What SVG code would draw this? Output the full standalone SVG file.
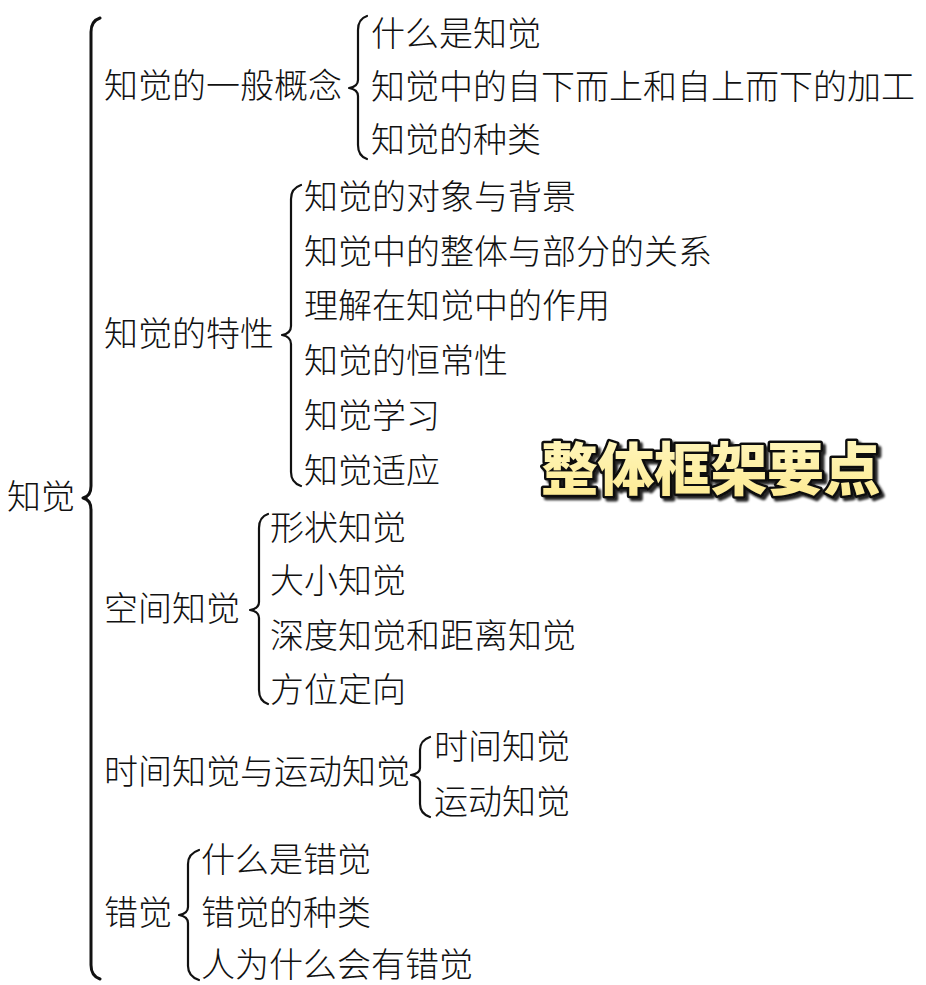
<svg xmlns="http://www.w3.org/2000/svg" width="926" height="985" viewBox="0 0 926 985">
<style>
.t{font-family:"Noto Sans CJK SC","Noto Sans CJK JP",sans-serif;font-size:34px;font-weight:300;fill:#111;dominant-baseline:central}
.b{fill:none;stroke:#111;stroke-width:2.2;stroke-linecap:round;stroke-linejoin:round}
.bm{stroke-width:3}
.title{font-family:"Noto Sans CJK SC",sans-serif;font-size:57px;font-weight:900;dominant-baseline:central;letter-spacing:-0.5px}
</style>
<defs>
<linearGradient id="yg" x1="0" y1="0" x2="0" y2="1">
<stop offset="0" stop-color="#FFF8C4"/>
<stop offset="1" stop-color="#FDE98E"/>
</linearGradient>
<filter id="sh" x="-5%" y="-20%" width="115%" height="150%">
<feDropShadow dx="3" dy="3" stdDeviation="0.8" flood-color="#000" flood-opacity="0.85"/>
</filter>
</defs>
<rect width="926" height="985" fill="#fff"/>
<g id="connectors">
<path class="b bm" d="M100,18 C94,20 91,24 91,32 L91,486 C91,493 88,497 83,498 C88,499 91,503 91,510 L91,965 C91,973 94,977 100,979"/>
<path class="b" d="M367,16 C361,18 358,22 358,30 L358,80 C358,85 355,87 349,88 C355,89 358,91 358,96 L358,145 C358,153 361,157 367,159"/>
<path class="b" d="M301,185 C295,187 291,191 291,199 L291,326 C291,331 288,334 282,335 C288,336 291,339 291,344 L291,472 C291,480 295,484 301,486"/>
<path class="b" d="M268,514 C262,516 259,520 259,528 L259,602 C259,607 256,609 250,610 C256,611 259,613 259,618 L259,690 C259,698 262,702 268,704"/>
<path class="b" d="M430,737 C424,739 420,743 420,750 L420,768 C420,772 417,774 411,775 C417,776 420,778 420,782 L420,804 C420,811 424,815 430,817"/>
<path class="b" d="M199,850 C193,852 188,856 188,864 L188,907 C188,912 185,914 179,915 C185,916 188,918 188,923 L188,966 C188,974 193,978 199,980"/>
</g>
<g id="root"><text class="t" x="7" y="494">知觉</text></g>
<g id="n1"><text class="t" x="104" y="83">知觉的一般概念</text></g>
<g id="n1a"><text class="t" x="371" y="31">什么是知觉</text></g>
<g id="n1b"><text class="t" x="371" y="84">知觉中的自下而上和自上而下的加工</text></g>
<g id="n1c"><text class="t" x="371" y="137">知觉的种类</text></g>
<g id="n2"><text class="t" x="104" y="331">知觉的特性</text></g>
<g id="n2a"><text class="t" x="304" y="194">知觉的对象与背景</text></g>
<g id="n2b"><text class="t" x="304" y="249">知觉中的整体与部分的关系</text></g>
<g id="n2c"><text class="t" x="304" y="303">理解在知觉中的作用</text></g>
<g id="n2d"><text class="t" x="304" y="358">知觉的恒常性</text></g>
<g id="n2e"><text class="t" x="304" y="413">知觉学习</text></g>
<g id="n2f"><text class="t" x="304" y="468">知觉适应</text></g>
<g id="n3"><text class="t" x="104" y="606">空间知觉</text></g>
<g id="n3a"><text class="t" x="270" y="525">形状知觉</text></g>
<g id="n3b"><text class="t" x="270" y="578">大小知觉</text></g>
<g id="n3c"><text class="t" x="270" y="633">深度知觉和距离知觉</text></g>
<g id="n3d"><text class="t" x="270" y="687">方位定向</text></g>
<g id="n4"><text class="t" x="104" y="769">时间知觉与运动知觉</text></g>
<g id="n4a"><text class="t" x="434" y="744">时间知觉</text></g>
<g id="n4b"><text class="t" x="434" y="799">运动知觉</text></g>
<g id="n5"><text class="t" x="104" y="910">错觉</text></g>
<g id="n5a"><text class="t" x="201" y="857">什么是错觉</text></g>
<g id="n5b"><text class="t" x="201" y="910">错觉的种类</text></g>
<g id="n5c"><text class="t" x="201" y="962">人为什么会有错觉</text></g>
<g id="title">
<text class="title" x="541" y="465" fill="url(#yg)" stroke="#111" stroke-width="5" stroke-linejoin="round" paint-order="stroke" filter="url(#sh)">整体框架要点</text>
</g>
</svg>
